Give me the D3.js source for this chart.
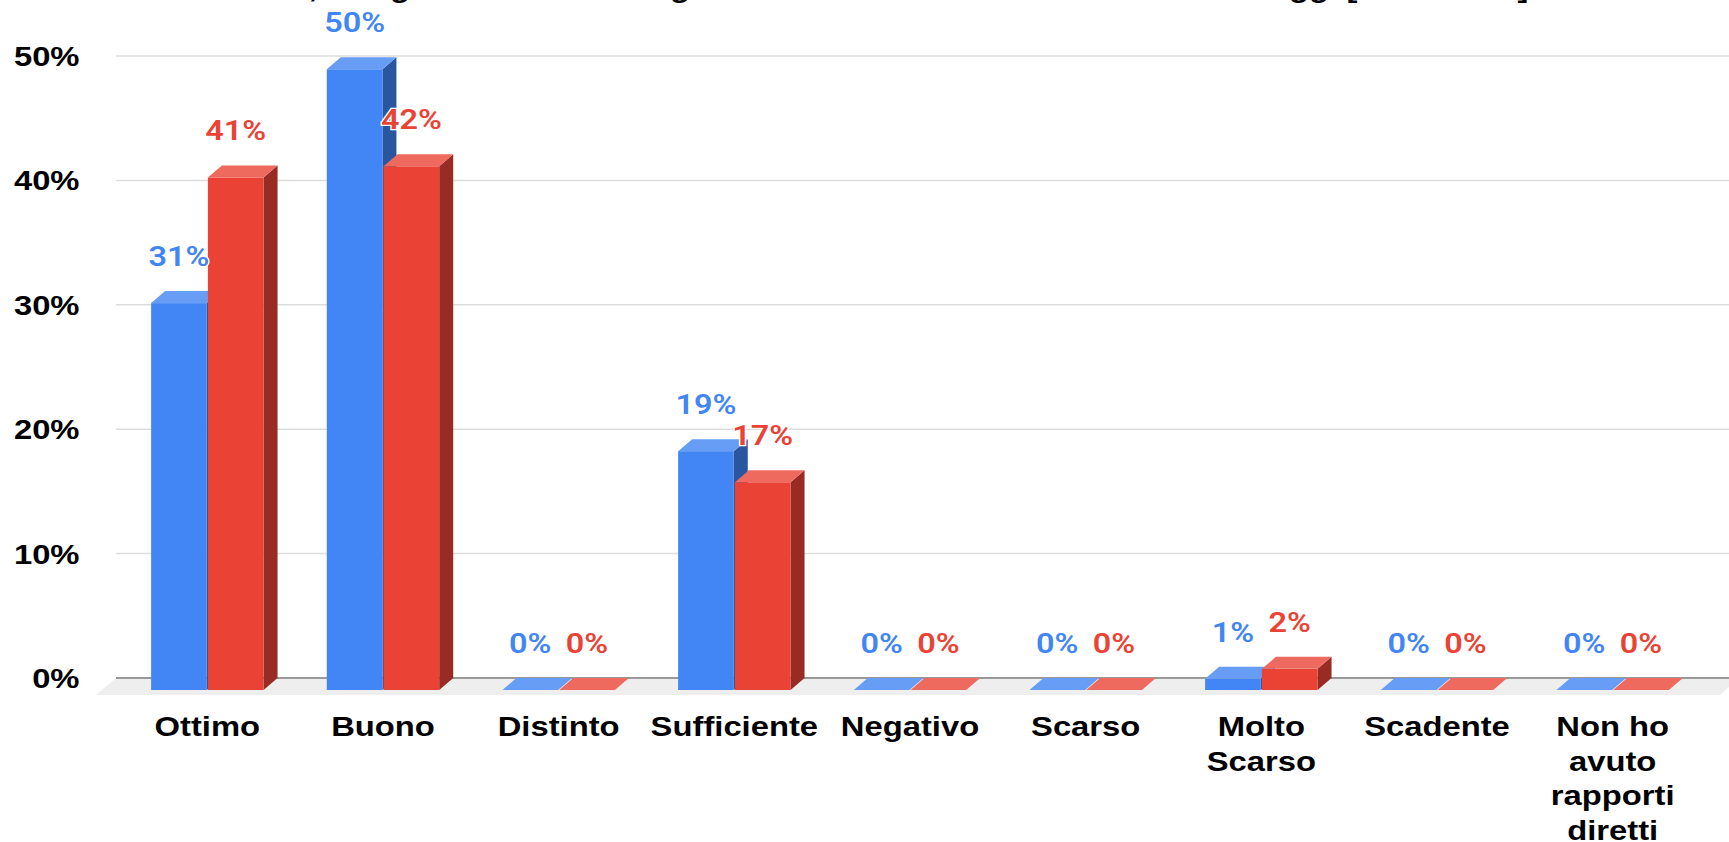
<!DOCTYPE html>
<html>
<head>
<meta charset="utf-8">
<script src="https://cdn.jsdelivr.net/npm/d3@7"></script>
<style>
  html, body { margin: 0; padding: 0; background: #fff; overflow: hidden; }
  svg { display: block; }
</style>
</head>
<body>
<div id="chart-container"></div>
<script>
// Values (bar heights, the labels are these rounded)
const categories = [
  'Ottimo', 'Buono', 'Distinto', 'Sufficiente', 'Negativo',
  'Scarso', 'Molto Scarso', 'Scadente', 'Non ho avuto rapporti diretti'
];
const seriesBlue = [31.1, 49.9, 0, 19.2, 0, 0, 0.9, 0, 0];
const seriesRed = [41.2, 42.1, 0, 16.7, 0, 0, 1.7, 0, 0];
const yTicks = [0, 10, 20, 30, 40, 50];

// Wrapped category labels, the way the chart breaks them
const categoryLines = [
  ['Ottimo'], ['Buono'], ['Distinto'], ['Sufficiente'], ['Negativo'],
  ['Scarso'], ['Molto', 'Scarso'], ['Scadente'], ['Non ho', 'avuto', 'rapporti', 'diretti']
];

// The title is cut off by the top edge, only these descenders are left of it
const titleFragments = [',', 'g', 'g', 'gg', '[', ']'];
const titleFragmentX = [313, 400, 680, 1309, 1352, 1523];

const width = 1729;
const height = 842;
const depthX = 14;
const depthY = 12;
const stretchAxis = 1.17; // the picture is a bit wider than it is tall
const stretchLabel = 1.2;

const svg = d3.select('#chart-container')
  .append('svg')
  .attr('width', width)
  .attr('height', height);

// y is the back wall of the 3D box, bars stand depthY lower and depthX to the left
const y = d3.scaleLinear().domain([0, 50]).range([678, 56]);
const x = d3.scaleBand().domain(categories).range([119.5, 1700.5]).paddingInner(0.36).paddingOuter(0.18);
const x1 = d3.scaleBand().domain(['blue', 'red']).range([0, x.bandwidth()]).paddingInner(0.02);

function stretchedText(sel, px, py, anchor, stretch) {
  return sel.attr('text-anchor', anchor)
    .attr('transform', `translate(${px},${py}) scale(${stretch},1)`);
}

// what is left of the title
svg.append('g').selectAll('text')
  .data(titleFragments)
  .enter()
  .append('text')
  .text(d => d)
  .attr('font-family', '"Liberation Sans", Arial, sans-serif')
  .attr('font-weight', 'bold')
  .attr('font-size', 28)
  .attr('fill', '#000')
  .each(function (d, i) { stretchedText(d3.select(this), titleFragmentX[i], -3, 'middle', stretchAxis); });

// floor
svg.append('path')
  .attr('d', `M${116},${y(0)}L${width},${y(0)}L${width},${y(0) + 9}L${1720},${y(0) + 17}L${96},${y(0) + 17}Z`)
  .attr('fill', '#eeeeee');

// gridlines
svg.append('g').selectAll('line')
  .data(yTicks.filter(d => d > 0))
  .enter()
  .append('line')
  .attr('x1', 116)
  .attr('x2', width)
  .attr('y1', d => y(d))
  .attr('y2', d => y(d))
  .attr('stroke', '#dddddd')
  .attr('stroke-width', 1.5);

// baseline
svg.append('line')
  .attr('x1', 116)
  .attr('x2', width)
  .attr('y1', y(0))
  .attr('y2', y(0))
  .attr('stroke', '#999999')
  .attr('stroke-width', 2);

// y axis labels
svg.append('g').selectAll('text')
  .data(yTicks)
  .enter()
  .append('text')
  .text(d => d + '%')
  .attr('font-family', '"Liberation Sans", Arial, sans-serif')
  .attr('font-weight', 'bold')
  .attr('font-size', 28)
  .attr('fill', '#000')
  .each(function (d) { stretchedText(d3.select(this), 79.5, y(d) + 10, 'end', stretchAxis); });

// bars
const series = [
  { key: 'blue', values: seriesBlue, front: '#4285f4', top: '#689df6', side: '#2a56a0' },
  { key: 'red', values: seriesRed, front: '#ea4335', top: '#ee6a5f', side: '#982b23' }
];

const groups = svg.append('g').selectAll('g')
  .data(categories)
  .enter()
  .append('g');

groups.each(function (cat, i) {
  const g = d3.select(this);
  series.forEach(s => {
    const v = s.values[i];
    const left = x(cat) + x1(s.key);
    const w = x1.bandwidth();
    // the flat bars at 0% only show their top face
    const top = y(v) + depthY;
    const base = y(0) + depthY;
    if (v > 0) {
      g.append('path')
        .attr('d', `M${left + w},${top}L${left + w + depthX},${top - depthY}L${left + w + depthX},${base - depthY}L${left + w},${base}Z`)
        .attr('fill', s.side);
      g.append('rect')
        .attr('x', left)
        .attr('y', top)
        .attr('width', w)
        .attr('height', base - top)
        .attr('fill', s.front);
    }
    g.append('path')
      .attr('d', `M${left},${top}L${left + depthX},${top - depthY}L${left + w + depthX},${top - depthY}L${left + w},${top}Z`)
      .attr('fill', s.top);
  });
});

// data labels go on top of everything, with a white halo
series.forEach(s => {
  svg.append('g').selectAll('text')
    .data(categories)
    .enter()
    .append('text')
    .text((d, i) => Math.round(s.values[i]) + '%')
    .attr('font-family', 'Roboto, sans-serif')
    .attr('font-weight', 600)
    .attr('font-size', 27)
    .attr('fill', s.front)
    .attr('stroke', '#fff')
    .attr('stroke-width', 2.5)
    .attr('paint-order', 'stroke')
    .each(function (d, i) {
      const px = x(d) + x1(s.key) + x1.bandwidth() / 2;
      const py = y(s.values[i]) - 25;
      stretchedText(d3.select(this), px, py, 'middle', stretchLabel);
    });
});

// category labels
groups.each(function (cat, i) {
  const px = x(cat) + x.bandwidth() / 2;
  d3.select(this).selectAll('text')
    .data(categoryLines[i])
    .enter()
    .append('text')
    .text(d => d)
    .attr('font-family', '"Liberation Sans", Arial, sans-serif')
    .attr('font-weight', 'bold')
    .attr('font-size', 28)
    .attr('fill', '#000')
    .each(function (d, j) { stretchedText(d3.select(this), px, 736 + j * 34.7, 'middle', stretchAxis); });
});
</script>
</body>
</html>
